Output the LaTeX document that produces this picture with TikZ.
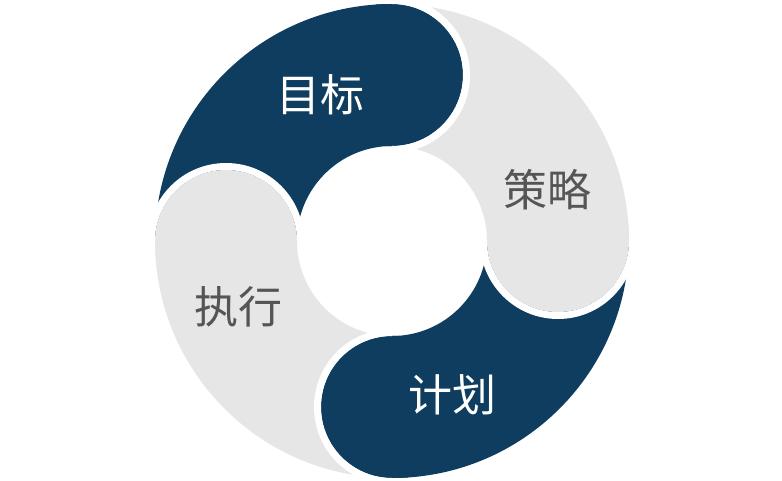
\documentclass[tikz,border=0pt]{standalone}
\usepackage{fontspec}
\newfontfamily\cjk{Noto Sans CJK SC}
\definecolor{navy}{HTML}{0E3D5F}
\definecolor{lgray}{HTML}{E6E6E6}
\definecolor{tgray}{HTML}{555555}
\begin{document}
\begin{tikzpicture}[x=1pt,y=1pt,
  lbl/.style={font=\cjk\fontsize{44}{44}\selectfont, inner sep=0pt},
  gap/.style={draw=white, line width=7pt}]
\useasboundingbox (0,0) rectangle (782,480);
\coordinate (O) at (392,239);
\def\Ro{237pt}\def\Ri{95pt}\def\Rc{71pt}
% bands: start angle s, end angle s-90
\foreach \s/\c in {180/navy,90/lgray,0/navy,-90/lgray}{
  \pgfmathsetmacro{\e}{\s-90}
  \fill[\c,shift={(O)}] (\s:\Ro) arc[start angle=\s, end angle=\e, radius=\Ro]
     -- (\e:\Ri) arc[start angle=\e, end angle=\s, radius=\Ri] -- cycle;
}
% round caps (with a small overlap into their own band) and white gaps
\foreach \e/\c in {90/navy,0/lgray,-90/navy,180/lgray}{
  \pgfmathsetmacro{\f}{\e-180}
  \pgfmathsetmacro{\b}{\e+4}
  \fill[\c,shift={(O)}] (\b:\Ro) arc[start angle=\b, end angle=\e, radius=\Ro]
     arc[start angle=\e, end angle=\f, radius=\Rc]
     arc[start angle=\e, end angle=\b, radius=\Ri] -- cycle;
  \draw[gap,shift={(O)}] (\e:240.5pt) arc[start angle=\e, end angle=\f, radius=74.5pt];
}
\node[lbl,text=white] (goal) at (320,385) {目标};
\node[lbl,text=tgray] (strategy) at (547,290) {策略};
\node[lbl,text=tgray] (exec) at (238,173) {执行};
\node[lbl,text=white] (plan) at (452,85) {计划};
\end{tikzpicture}
\end{document}
